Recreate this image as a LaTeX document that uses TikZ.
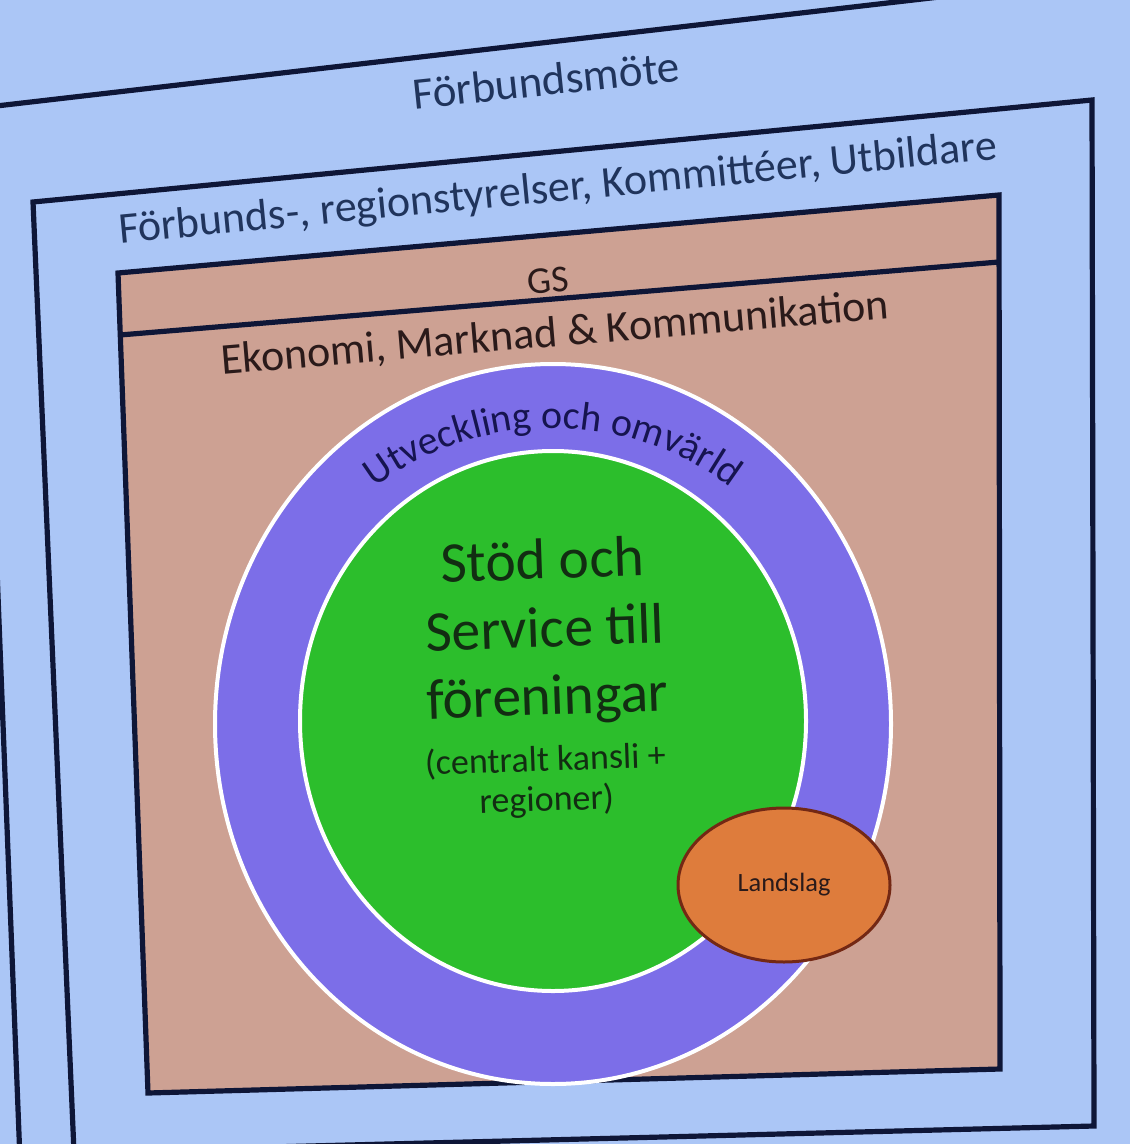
\documentclass[tikz,border=0pt]{standalone}
\usepackage{fontspec}
\setmainfont{Carlito}
\usetikzlibrary{shapes.geometric,decorations.text}
\definecolor{bgblue}{RGB}{171,198,246}
\definecolor{brownfill}{RGB}{205,161,147}
\definecolor{ringpurple}{RGB}{124,110,232}
\definecolor{coregreen}{RGB}{44,190,44}
\definecolor{lsorange}{RGB}{222,124,60}
\definecolor{lsborder}{RGB}{115,40,20}
\definecolor{linecol}{RGB}{14,22,55}
\definecolor{navytext}{RGB}{32,52,92}
\definecolor{darktext}{RGB}{42,26,26}
\definecolor{ringtext}{RGB}{22,20,80}
\definecolor{greentext}{RGB}{18,45,18}
\tikzset{
  frame/.style={draw=linecol, line width=2.6pt, line join=miter},
  bluetxt/.style={text=navytext, inner sep=0pt},
  browntxt/.style={text=darktext, inner sep=0pt},
}
\begin{document}
\begin{tikzpicture}[x=0.5pt,y=-0.5pt]
\useasboundingbox (0,0) rectangle (1130,1144);
\fill[bgblue] (0,0) rectangle (1130,1144);
\begin{scope}
\clip (0,0) rectangle (1130,1144);
% outer box (Förbundsmöte)
\coordinate (oTL) at (-21,108);
\coordinate (oTR) at (1000,-10);
\coordinate (oBL) at (20,1160);
\draw[frame] (oTR) -- (oTL) -- (oBL);
% second box
\coordinate (sTL) at (33,202);
\coordinate (sTR) at (1092,100);
\coordinate (sBR) at (1094,1126);
\coordinate (sBL) at (74,1152);
\draw[frame] (sTL) -- (sTR) -- (sBR) -- (sBL) -- cycle;
% brown box
\coordinate (bTL) at (118,273);
\coordinate (bTR) at (999,195);
\coordinate (bBR) at (1000,1069);
\coordinate (bBL) at (148,1093);
\coordinate (gL) at (120,335);
\coordinate (gR) at (999,262);
\fill[brownfill] (bTL) -- (bTR) -- (bBR) -- (bBL) -- cycle;
\draw[frame] (gL) -- (gR);
\draw[frame] (bTL) -- (bTR) -- (bBR) -- (bBL) -- cycle;
\end{scope}
% texts in the blue frames
\node[bluetxt, rotate=6, font=\fontsize{22.5}{27}\selectfont] (fm) at (546,80) {Förbundsmöte};
\node[bluetxt, rotate=5.5, font=\fontsize{22}{26}\selectfont] (fr) at (558,190) {Förbunds-, regionstyrelser, Kommittéer, Utbildare};
% brown box texts
\node[browntxt, rotate=5, font=\fontsize{19}{23}\selectfont] (gs) at (548,281) {GS};
\node[browntxt, rotate=4.8, font=\fontsize{22}{26}\selectfont] (ek) at (555,334) {Ekonomi, Marknad \& Kommunikation};
% circles
\node[ellipse, fill=ringpurple, draw=white, line width=2pt, minimum width=338pt, minimum height=360pt, inner sep=0pt] (ring) at (553,724) {};
\node[ellipse, fill=coregreen, draw=white, line width=2pt, minimum width=253pt, minimum height=270pt, inner sep=0pt] (core) at (553,721) {};
\path[decorate, decoration={text along path, text align=center,
  text={|\color{ringtext}\fontsize{20}{24}\selectfont|Utveckling och omvärld}}]
  (ring.center) ++(215:296) arc[start angle=215, end angle=325, radius=296];
\node[text=greentext, align=center, rotate=2, inner sep=0pt, font=\fontsize{28.75}{34}\selectfont] (stod) at (545,632) {Stöd och\\Service till\\föreningar};
\node[text=greentext, align=center, rotate=2, inner sep=0pt, font=\fontsize{18}{20}\selectfont] (kansli) at (546,781) {(centralt kansli +\\regioner)};
% Landslag
\node[ellipse, fill=lsorange, draw=lsborder, line width=1.5pt, minimum width=106pt, minimum height=77pt, inner sep=0pt, text=darktext, font=\fontsize{13.2}{15}\selectfont] (ls) at (784,885) {Landslag};
\end{tikzpicture}
\end{document}
